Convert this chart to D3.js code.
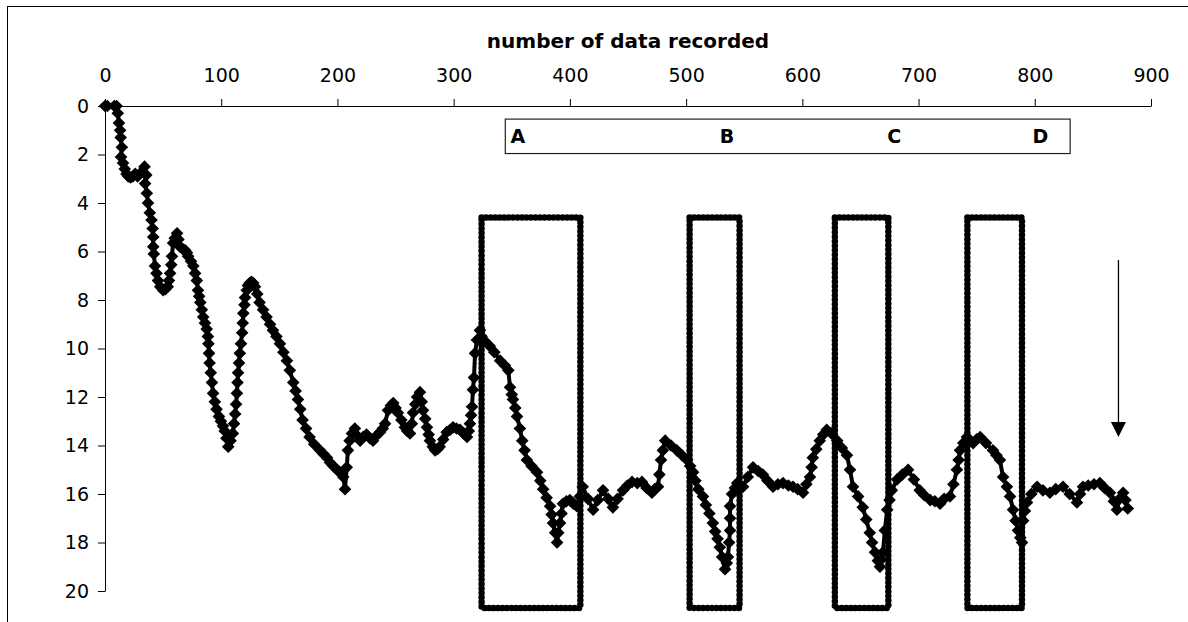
<!DOCTYPE html>
<html>
<head>
<meta charset="utf-8">
<script src="https://cdn.jsdelivr.net/npm/d3@7"></script>
<style>
  body { margin: 0; background: #fff; }
  svg text { font-family: "DejaVu Sans", Verdana, sans-serif; fill: #000; }
</style>
</head>
<body>
<div id="chart-container"></div>
<script>
// readings: [number of data recorded, value]
const readings = [
  [0,0],[2,0],[8,0],[10,0],[11,0.3],[12,0.7],[13,1.0],[13.5,1.3],[14.5,1.7],[13.8,2.1],[15.5,2.35],[17,2.6],
  [18.5,2.8],[20,2.9],[22,2.95],[24,2.9],[26,2.8],[28,2.9],[30,2.8],[32,2.7],[34,2.5],[35.5,2.85],[34.5,3.2],
  [36,3.6],[37,4.0],[38.5,4.4],[40,4.7],[41,5.05],[41.5,5.4],[41.5,5.8],[42,6.1],[43,6.6],[44.3,6.9],[45.6,7.2],
  [47.5,7.45],[50,7.6],[52,7.55],[54,7.45],[55,7.2],[56,6.9],[57,6.55],[57.6,6.2],[58.6,5.65],[60,5.45],[62,5.25],
  [63.2,5.5],[64.5,5.8],[67,5.9],[69,5.95],[70.5,6.05],[71.5,6.2],[74,6.4],[76,6.6],[77.5,6.9],[79,7.2],[80,7.6],
  [81,7.85],[82,8.1],[83.3,8.4],[84.5,8.7],[86,8.95],[87.5,9.2],[88.5,9.5],[89,9.8],[89.5,10.2],[90,10.6],[91,11.0],
  [92,11.4],[93,11.85],[94.5,12.2],[96,12.5],[98,12.8],[99.7,13.0],[101.5,13.2],[103,13.4],[104.5,13.7],[106,14.05],
  [108,13.8],[110,13.5],[111,13.1],[112,12.7],[112.8,12.3],[113.5,11.85],[114,11.4],[114.5,11.0],[115.3,10.6],
  [116,10.2],[117,9.8],[118,9.35],[118.5,8.95],[119,8.55],[120,8.2],[120.5,7.9],[122,7.6],[123,7.4],[124.5,7.3],
  [126,7.25],[127.5,7.3],[129,7.45],[131,7.75],[133,8.1],[136,8.4],[139,8.7],[142,9.0],[144.5,9.25],[147.5,9.5],
  [150.5,9.8],[153.5,10.15],[156.5,10.5],[159,10.9],[162,11.4],[164,11.75],[166,12.1],[168,12.5],[170,12.95],
  [173,13.3],[176,13.65],[180,13.95],[185,14.2],[188,14.35],[191,14.5],[193.6,14.7],[196.5,14.85],[199.6,15.0],
  [202,15.1],[205,15.3],[206.5,15.8],[208,14.9],[209,14.2],[210.5,13.8],[212.5,13.5],[215,13.3],[217,13.6],
  [219.5,13.8],[222,13.65],[225,13.55],[228,13.7],[230.6,13.8],[233.5,13.6],[236.6,13.45],[239,13.3],[241,13.1],
  [243.5,12.55],[246,12.35],[248,12.25],[250,12.45],[252,12.65],[255,12.95],[258,13.25],[260,13.4],[262.4,13.5],
  [264,13.1],[265,12.65],[267,12.3],[268.5,12.0],[271,11.8],[272.5,12.2],[273.6,12.55],[275.5,12.9],[277,13.25],
  [278.5,13.55],[279.6,13.8],[282,14.05],[284,14.2],[286,14.15],[288,14.05],[291,13.75],[294,13.45],[297,13.35],
  [299.5,13.25],[302.5,13.3],[305.5,13.35],[308.5,13.5],[311.5,13.65],[313,13.4],[314,13.1],[315,12.75],[315.8,12.4],
  [316.6,11.7],[317.5,11.2],[318.4,10.2],[320,9.65],[322.6,9.25],[324,9.5],[327,9.7],[331,9.9],[335,10.15],[340,10.5],
  [344,10.7],[347,10.9],[348.5,11.6],[350,11.9],[351,12.1],[353,12.45],[354.5,12.8],[357,13.3],[359,13.8],[361,14.2],
  [363,14.6],[367,14.85],[371.7,15.1],[374.5,15.45],[377,15.8],[380,16.15],[383,16.5],[384.3,16.85],[385.5,17.2],
  [387.3,17.6],[389,18.0],[390,17.6],[391.5,17.2],[392.8,16.8],[394,16.4],[397,16.3],[400,16.25],[403,16.4],
  [406,16.5],[408.5,16.1],[411,15.7],[415.5,16.2],[420,16.65],[424,16.25],[428.5,15.85],[433,16.2],[437,16.55],
  [441,16.2],[445.7,15.85],[449.5,15.65],[453.5,15.5],[458,15.55],[462,15.5],[466,15.75],[470.6,15.95],[473,15.8],
  [475.8,15.7],[477,15.2],[478.4,14.6],[480,14.2],[482,13.8],[487,14.0],[492,14.2],[496.5,14.4],[500.8,14.6],
  [503.5,14.85],[506,15.1],[508,15.45],[510.5,15.8],[514.5,16.1],[517,16.45],[520,16.8],[523,17.2],[525,17.55],
  [527,17.85],[529,18.2],[531,18.6],[533.5,19.1],[535,18.85],[536,18.6],[537,18.0],[537.8,17.5],[537.8,17.0],
  [537.8,16.5],[539.5,16.0],[542,15.75],[544,15.55],[549,15.7],[553,15.3],[557.6,14.9],[562,15.05],[566,15.2],
  [570,15.45],[574.8,15.7],[579,15.6],[583.4,15.55],[588,15.65],[592,15.7],[596,15.8],[600.6,15.95],[603.5,15.6],
  [606.6,15.3],[608,14.9],[609,14.5],[612,14.15],[615,13.8],[618,13.55],[621,13.35],[625,13.5],[630,13.8],
  [634,14.1],[638.4,14.4],[641,15.0],[643.6,15.7],[648,16.1],[652,16.55],[655,17.05],[658,17.6],[660,18.0],
  [662.5,18.4],[665,18.75],[666.8,19.0],[668,18.7],[669.4,18.4],[671,17.5],[673,16.65],[675,16.25],[677,15.85],
  [681.5,15.4],[686,15.2],[691,15.0],[696,15.4],[701,15.85],[705,16.05],[710,16.25],[714,16.3],[718.5,16.4],
  [722,16.2],[727,16.1],[730,15.6],[733,15.0],[734.5,14.6],[735.7,14.2],[738.5,13.9],[741.7,13.65],[744,13.8],
  [747,13.9],[750,13.75],[753,13.65],[758,13.9],[764,14.2],[767,14.4],[770,14.6],[772.7,15.3],[776,15.7],
  [778.7,16.1],[781.3,16.65],[783.5,17.1],[785.6,17.5],[787.5,17.8],[789,18.0],[790,17.1],[791.5,16.7],
  [793.3,16.35],[797,16.0],[802,15.7],[807,15.85],[813,15.95],[818,15.8],[824.3,15.7],[830,16.0],[836.3,16.35],
  [839,16.0],[841.5,15.7],[846,15.65],[851,15.6],[856,15.55],[860,15.75],[864.7,15.95],[868,16.3],[870.7,16.65],
  [873,16.2],[876,15.95],[878,16.25],[880,16.6]
];

// dotted windows A..D (x range), all span the same y range
const windowX = [[324, 409], [503, 546], [628, 674], [742, 789]];
const windowY = [4.6, 20.7];

// label strip above the windows
const boxLabels = ["A", "B", "C", "D"];
const boxLabelX = [349, 529, 673, 798];
const boxX = [344, 830];
const boxY = [0.52, 1.94];

const arrowX = 872;
const arrowY = [6.35, 13.65];

const xTicks = [0, 100, 200, 300, 400, 500, 600, 700, 800, 900];
const yTicks = [0, 2, 4, 6, 8, 10, 12, 14, 16, 18, 20];

const width = 1188, height = 622;

const svg = d3.select("#chart-container")
  .append("svg")
  .attr("width", width)
  .attr("height", height);

// outer chart frame (runs off the page to the right and bottom)
svg.append("rect")
  .attr("x", 7.5).attr("y", 6.5)
  .attr("width", 1400).attr("height", 900)
  .attr("fill", "none").attr("stroke", "#000");

const x = d3.scaleLinear().domain([0, 900]).range([105, 1151]);
const y = d3.scaleLinear().domain([0, 20]).range([106, 591]);

// top axis
svg.append("g")
  .attr("transform", `translate(0,${y(0)})`)
  .call(d3.axisTop(x).tickValues(xTicks).tickSize(7).tickPadding(17).tickSizeOuter(0))
  .call(g => g.selectAll("text").style("font-size", "19px"));

// left axis
svg.append("g")
  .attr("transform", `translate(${x(0)},0)`)
  .call(d3.axisLeft(y).tickValues(yTicks).tickSize(7).tickPadding(9).tickSizeOuter(0))
  .call(g => g.selectAll("text").style("font-size", "19px"));

svg.selectAll(".domain, .tick line").attr("stroke", "#000");

svg.append("text")
  .attr("x", (x(0) + x(900)) / 2)
  .attr("y", 48)
  .attr("text-anchor", "middle")
  .style("font-size", "20px")
  .style("font-weight", "bold")
  .text("number of data recorded");

// label strip
svg.append("rect")
  .attr("x", x(boxX[0]) + 0.5).attr("y", y(boxY[0]) + 0.5)
  .attr("width", x(boxX[1]) - x(boxX[0]))
  .attr("height", y(boxY[1]) - y(boxY[0]))
  .attr("fill", "none").attr("stroke", "#222").attr("stroke-width", 1.2);

svg.selectAll(".box-label")
  .data(boxLabels)
  .enter().append("text")
  .attr("class", "box-label")
  .attr("x", (d, i) => x(boxLabelX[i]))
  .attr("y", y((boxY[0] + boxY[1]) / 2))
  .attr("dy", "0.36em")
  .style("font-size", "19px")
  .style("font-weight", "bold")
  .text(d => d);

// dotted windows
svg.selectAll(".window")
  .data(windowX)
  .enter().append("rect")
  .attr("class", "window")
  .attr("x", d => x(d[0]))
  .attr("y", y(windowY[0]))
  .attr("width", d => x(d[1]) - x(d[0]))
  .attr("height", y(windowY[1]) - y(windowY[0]))
  .attr("fill", "none")
  .attr("stroke", "#000")
  .attr("stroke-width", 6.5)
  .attr("stroke-linecap", "round")
  .attr("stroke-dasharray", "0 4.5");

// series line
const line = d3.line()
  .x(d => x(d[0]))
  .y(d => y(d[1]));

svg.append("path")
  .datum(readings)
  .attr("fill", "none")
  .attr("stroke", "#000")
  .attr("stroke-width", 4)
  .attr("stroke-linejoin", "round")
  .attr("d", line);

// diamond markers
const diamond = d3.symbol().type(d3.symbolSquare).size(80);
svg.selectAll(".pt")
  .data(readings)
  .enter().append("path")
  .attr("class", "pt")
  .attr("d", diamond)
  .attr("transform", d => `translate(${x(d[0])},${y(d[1])}) rotate(45)`)
  .attr("fill", "#000");

// arrow
svg.append("line")
  .attr("x1", x(arrowX)).attr("x2", x(arrowX))
  .attr("y1", y(arrowY[0])).attr("y2", y(arrowY[1]) - 12)
  .attr("stroke", "#000").attr("stroke-width", 1.3);

svg.append("path")
  .attr("d", `M${x(arrowX) - 7.5},${y(arrowY[1]) - 15}L${x(arrowX) + 7.5},${y(arrowY[1]) - 15}L${x(arrowX)},${y(arrowY[1])}Z`)
  .attr("fill", "#000");
</script>
</body>
</html>
